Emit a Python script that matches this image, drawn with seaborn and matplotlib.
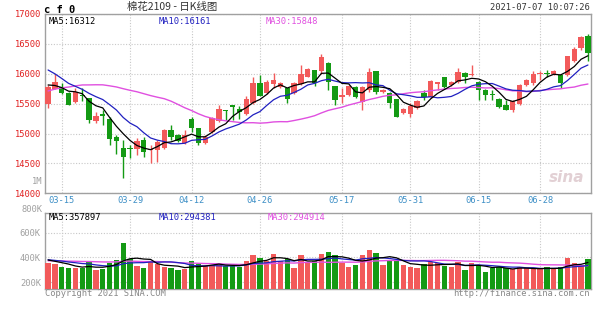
import numpy as np
import pandas as pd
import matplotlib
matplotlib.use("Agg")
import matplotlib.pyplot as plt
import seaborn as sns

# ---------------- data ----------------
dates = ["03-11", "03-12", "03-15", "03-16", "03-17", "03-18", "03-19", "03-22", "03-23", "03-24",
         "03-25", "03-26", "03-29", "03-30", "03-31", "04-01", "04-02", "04-06", "04-07", "04-08",
         "04-09", "04-12", "04-13", "04-14", "04-15", "04-16", "04-19", "04-20", "04-21", "04-22",
         "04-23", "04-26", "04-27", "04-28", "04-29", "04-30", "05-06", "05-07", "05-10", "05-11",
         "05-12", "05-13", "05-14", "05-17", "05-18", "05-19", "05-20", "05-21", "05-24", "05-25",
         "05-26", "05-27", "05-28", "05-31", "06-01", "06-02", "06-03", "06-04", "06-07", "06-08",
         "06-09", "06-10", "06-11", "06-15", "06-16", "06-17", "06-18", "06-21", "06-22", "06-23",
         "06-24", "06-25", "06-28", "06-29", "06-30", "07-01", "07-02", "07-05", "07-06", "07-07"]

opens = [15494, 15745, 15773, 15680, 15522, 15645, 15590, 15215, 15320, 15238,
         14937, 14753, 14750, 14741, 14892, 14730, 14724, 14760, 15059, 14975,
         14836, 15238, 15088, 14840, 15031, 15215, 15394, 15470, 15410, 15327,
         15516, 15840, 15673, 15830, 15773, 15757, 15673, 15824, 15950, 16063,
         16040, 16175, 15795, 15606, 15645, 15784, 15533, 15728, 16040, 15690,
         15673, 15573, 15338, 15327, 15422, 15673, 15617, 15824, 15940, 15812,
         15857, 16018, 15975, 15867, 15728, 15660, 15578, 15485, 15400, 15494,
         15807, 15845, 15990, 16020, 16000, 15985, 15985, 16219, 16430, 16626]
highs = [15812, 15990, 15840, 15690, 15757, 15760, 15600, 15365, 15394, 15270,
         14975, 14900, 14810, 14925, 14937, 14810, 14892, 15070, 15143, 14990,
         15060, 15280, 15100, 14970, 15270, 15480, 15400, 15480, 15460, 15620,
         15950, 15980, 15900, 16020, 15870, 15770, 15870, 16150, 16090, 16070,
         16330, 16200, 15800, 15757, 15810, 15800, 15800, 16090, 16050, 15740,
         15690, 15580, 15420, 15510, 15560, 15730, 15900, 15870, 15950, 15880,
         16090, 16030, 16147, 15880, 15740, 15734, 15600, 15560, 15560, 15830,
         15910, 16040, 16050, 16060, 16060, 15990, 16270, 16450, 16640, 16660]
lows = [15422, 15740, 15660, 15470, 15510, 15540, 15180, 15171, 15143, 14808,
        14650, 14250, 14590, 14641, 14612, 14500, 14530, 14740, 14892, 14850,
        14820, 15030, 14800, 14820, 15010, 15200, 15226, 15226, 15240, 15310,
        15500, 15620, 15660, 15757, 15760, 15505, 15660, 15810, 15940, 15790,
        15990, 15730, 15477, 15505, 15630, 15600, 15394, 15700, 15660, 15680,
        15420, 15270, 15330, 15280, 15410, 15560, 15600, 15730, 15770, 15800,
        15840, 15840, 15960, 15561, 15560, 15566, 15420, 15400, 15355, 15480,
        15800, 15820, 15900, 15940, 15980, 15762, 15970, 16200, 16400, 16220]
closes = [15783, 15857, 15673, 15480, 15700, 15620, 15226, 15298, 15300, 14903,
          14880, 14602, 14735, 14880, 14686, 14745, 14863, 15059, 14947, 14880,
          14975, 15088, 14836, 14950, 15255, 15410, 15370, 15450, 15360, 15573,
          15840, 15628, 15867, 15900, 15840, 15573, 15840, 15990, 16080, 15840,
          16285, 15867, 15561, 15645, 15795, 15617, 15784, 16035, 15700, 15728,
          15505, 15282, 15405, 15460, 15544, 15617, 15880, 15857, 15784, 15867,
          16024, 15950, 15995, 15728, 15640, 15645, 15444, 15400, 15550, 15817,
          15900, 16000, 16010, 16000, 16050, 15845, 16290, 16420, 16610, 16340]
# volume in thousands
volumes = [358, 347, 325, 312, 312, 312, 371, 298, 309, 353,
           380, 521, 388, 331, 317, 366, 347, 325, 312, 298,
           306, 371, 344, 331, 339, 347, 331, 331, 325, 371,
           420, 398, 371, 429, 371, 388, 312, 420, 366, 374,
           429, 447, 420, 358, 320, 339, 420, 461, 434, 339,
           380, 371, 339, 320, 312, 347, 366, 358, 331, 320,
           366, 298, 358, 339, 284, 312, 320, 312, 304, 320,
           312, 304, 304, 320, 312, 320, 393, 358, 339, 385]

# sessions before the visible window (only used for the moving averages)
prior_closes = [14950, 15020, 15080, 15120, 15150, 15200, 15230, 15330,
                15400, 15450, 15480, 15550, 15600, 15650, 15700, 15680, 15800,
                16200, 16500, 16650,
                16500, 16450, 16300, 16200, 16120,
                15900, 15850, 15780, 15750]
prior_volumes = [360, 350, 370, 340, 360, 380, 350, 360, 370, 340,
                 360, 380, 390, 370, 350, 360, 380, 400, 420, 390,
                 400, 380, 390, 370, 380, 400, 380, 370, 390]

# legend readouts as printed on the chart
price_ma_labels = ["MA5:16312", "MA10:16161", "MA30:15848"]
vol_ma_labels = ["MA5:357897", "MA10:294381", "MA30:294914"]

tick_labels = ["03-15", "03-29", "04-12", "04-26", "05-17", "05-31", "06-15", "06-28"]
price_ticks = [14000, 14500, 15000, 15500, 16000, 16500, 17000]
vol_ticks = [200, 400, 600, 800]

# ---------------- style ----------------
sns.set_style("white")
MONO = ["DejaVu Sans Mono"]
CJK = ["Noto Sans CJK SC", "DejaVu Sans"]
plt.rcParams["font.family"] = MONO

RED = "#f25a5a"
GREEN = "#149a14"
GRID = "#c8c8c8"
SPINE = "#a0a0a0"
C_MA5, C_MA10, C_MA30 = "black", "#2020c0", "#e050e0"

W, H = 600, 327
fig = plt.figure(figsize=(W / 100, H / 100), dpi=100)
fig.patch.set_facecolor("white")

def fx(px):
    return px / W

def fy(py):
    return 1 - py / H

ax1 = fig.add_axes([fx(45), fy(193.3), fx(546), (193.3 - 14) / H])
ax2 = fig.add_axes([fx(45), fy(289), fx(546), (289 - 213) / H])

n = len(closes)
x = np.arange(n)
o = np.array(opens, float)
c = np.array(closes, float)
hi = np.array(highs, float)
lo = np.array(lows, float)
up = c >= o
cols = np.where(up, RED, GREEN)

all_c = pd.Series(prior_closes + closes, dtype=float)
ma5 = all_c.rolling(5).mean().iloc[-n:].to_numpy()
ma10 = all_c.rolling(10).mean().iloc[-n:].to_numpy()
ma30 = all_c.rolling(30).mean().iloc[-n:].to_numpy()

all_v = pd.Series(prior_volumes + volumes, dtype=float)
vma5 = all_v.rolling(5).mean().iloc[-n:].to_numpy()
vma10 = all_v.rolling(10).mean().iloc[-n:].to_numpy()
vma30 = all_v.rolling(30).mean().iloc[-n:].to_numpy()

tick_pos = [dates.index(t) for t in tick_labels]

for ax in (ax1, ax2):
    ax.set_facecolor("white")
    for s in ax.spines.values():
        s.set_color(SPINE)
        s.set_linewidth(1.0)
    ax.grid(True, axis="both", color=GRID, linestyle=(0, (1, 1.5)), linewidth=0.8)
    ax.set_axisbelow(True)
    ax.tick_params(length=0)

# ---- price panel ----
ax1.vlines(x, lo, hi, colors=cols, linewidth=1.0, zorder=2)
body = np.maximum(np.abs(c - o), 14)
ax1.bar(x, body, bottom=np.minimum(o, c), width=0.78, color=cols, linewidth=0, zorder=3)

sns.lineplot(x=x, y=ma30, ax=ax1, color=C_MA30, linewidth=1.0, zorder=4)
sns.lineplot(x=x, y=ma10, ax=ax1, color=C_MA10, linewidth=0.9, zorder=5)
sns.lineplot(x=x, y=ma5, ax=ax1, color=C_MA5, linewidth=0.9, zorder=6)

ax1.set_xlim(-0.45, n - 0.55)
ax1.set_ylim(14000, 17000)
ax1.set_xticks(tick_pos)
ax1.set_xticklabels(tick_labels, color="#3d8fc6", fontsize=6.3)
ax1.tick_params(axis="x", pad=2)
ax1.set_yticks(price_ticks)
ax1.set_yticklabels([str(v) for v in price_ticks], color="#e02020", fontsize=6.3)
ax1.tick_params(axis="y", pad=3)
ax1.set_xlabel("")
ax1.set_ylabel("")

for txt, col, px in zip(price_ma_labels, (C_MA5, C_MA10, C_MA30), (49, 159, 266)):
    fig.text(fx(px), fy(22), txt, fontsize=6.3, color=col, va="center", ha="left")
ax1.text(0.955, 0.09, "sina", transform=ax1.transAxes, fontsize=11, color="#e2d0d4",
         style="italic", fontweight="bold", ha="center", va="center", family=["DejaVu Sans"])

# ---- volume panel ----
vpx = 8.163  # thousands per pixel
vlim = (200 - (289 - 282) * vpx, 200 + (282 - 213) * vpx)
sns.barplot(x=x, y=volumes, hue=x, palette=list(cols), legend=False, ax=ax2,
            native_scale=True, width=0.78, linewidth=0, saturation=1, zorder=3)
sns.lineplot(x=x, y=vma30, ax=ax2, color=C_MA30, linewidth=1.0, zorder=4)
sns.lineplot(x=x, y=vma10, ax=ax2, color=C_MA10, linewidth=0.9, zorder=5)
sns.lineplot(x=x, y=vma5, ax=ax2, color=C_MA5, linewidth=0.9, zorder=6)
ax2.set_xlim(-0.45, n - 0.55)
ax2.set_ylim(*vlim)
ax2.set_xticks(tick_pos)
ax2.set_xticklabels([])
ax2.set_yticks(vol_ticks[:-1])
ax2.set_yticklabels([f"{v}K" for v in vol_ticks[:-1]], color="#a0a0a0", fontsize=6.3)
ax2.tick_params(axis="y", pad=3)
ax2.set_xlabel("")
ax2.set_ylabel("")

fig.text(fx(42), fy(209), f"{vol_ticks[-1]}K", fontsize=6.3, color="#a0a0a0", ha="right", va="center")
for txt, col, px in zip(vol_ma_labels, (C_MA5, C_MA10, C_MA30), (49, 159, 268)):
    fig.text(fx(px), fy(217), txt, fontsize=6.3, color=col, va="center", ha="left")

# ---- header / footer ----
fig.text(fx(44), fy(10), "c f 0", fontsize=7.5, color="black", fontweight="bold", va="center")
fig.text(fx(127), fy(7), "棉花2109 - 日K线图", fontsize=7.5, color="#333333", va="center",
         family=CJK)
fig.text(fx(590), fy(7), "2021-07-07 10:07:26", fontsize=6.3, color="#333333", va="center", ha="right")
fig.text(fx(42), fy(182), "1M", fontsize=6.3, color="#a0a0a0", va="center", ha="right")
fig.text(fx(45), fy(294), "Copyright 2021 SINA.COM", fontsize=6.3, color="#888888", va="center")
fig.text(fx(590), fy(294), "http://finance.sina.com.cn", fontsize=6.3, color="#888888",
         va="center", ha="right")

fig.savefig("out.png", dpi=100, facecolor="white")
